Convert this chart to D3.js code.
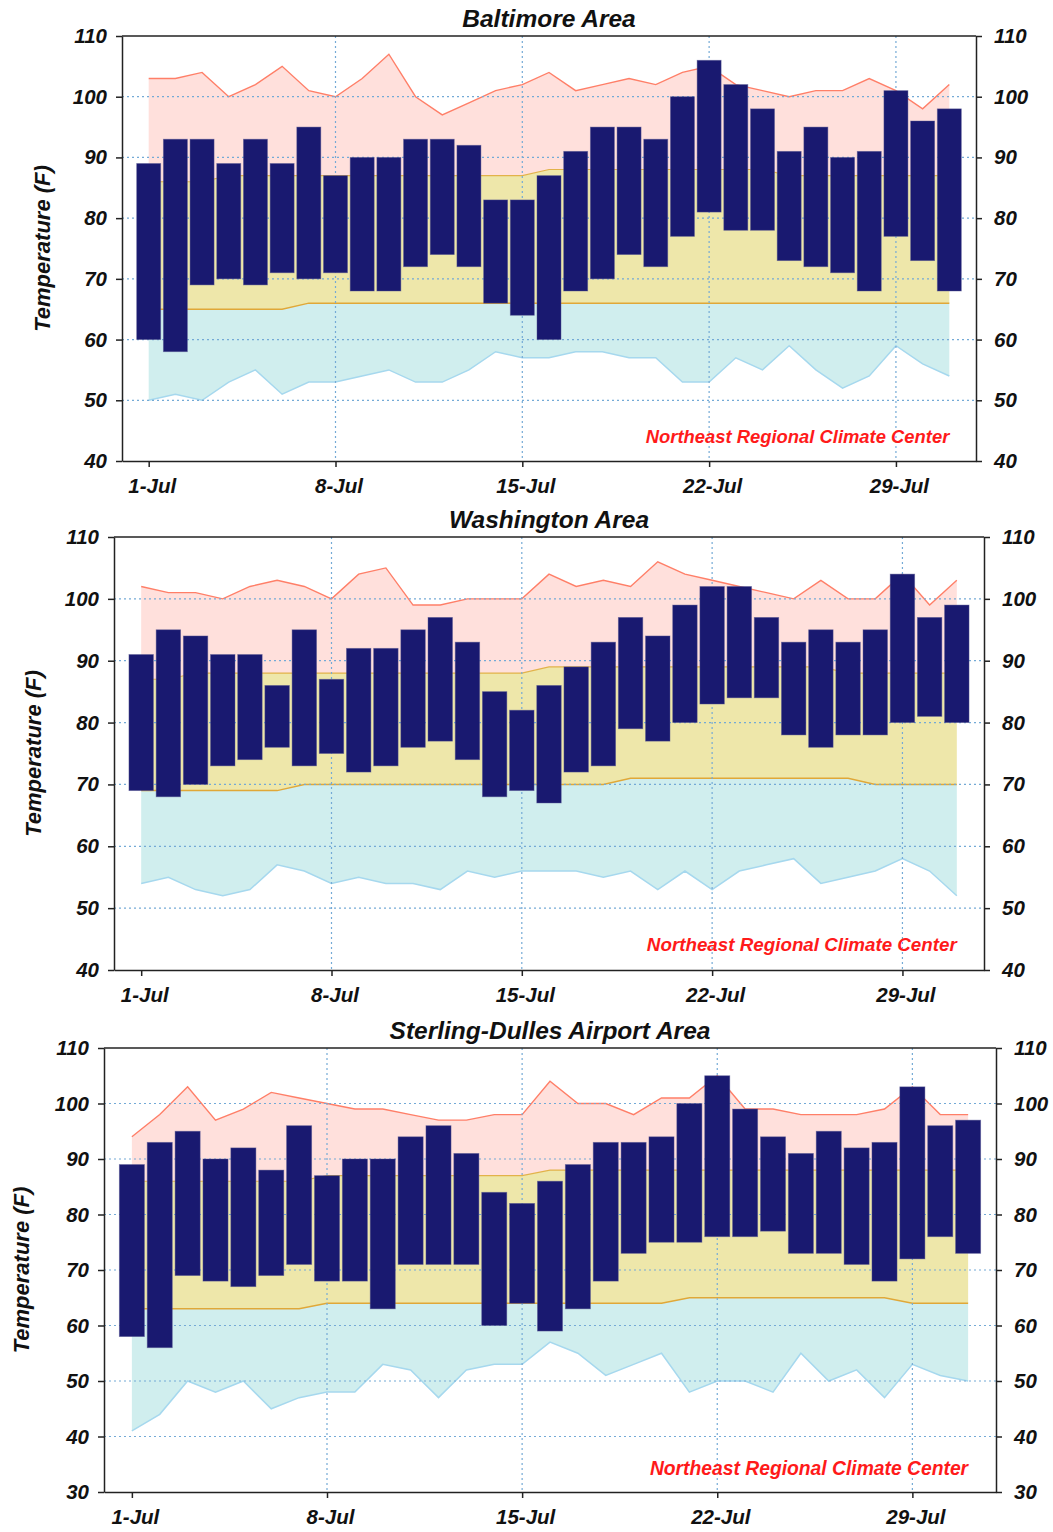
<!DOCTYPE html>
<html>
<head>
<meta charset="utf-8">
<script src="https://cdn.jsdelivr.net/npm/d3@7"></script>
<style>
  body { margin: 0; background: #fff; }
  svg { display: block; font-family: "Liberation Sans", Arial, sans-serif; font-weight: bold; font-style: italic; }
</style>
</head>
<body>
<div id="chart"></div>
<script>
// July days and labelled ticks
const days = [1,2,3,4,5,6,7,8,9,10,11,12,13,14,15,16,17,18,19,20,21,22,23,24,25,26,27,28,29,30,31];
const tickDays = [1, 8, 15, 22, 29];
const tickLabels = ["1-Jul", "8-Jul", "15-Jul", "22-Jul", "29-Jul"];

// Baltimore
const balRecHigh  = [103,103,104,100,102,105,101,100,103,107,100,97,99,101,102,104,101,102,103,102,104,105,102,101,100,101,101,103,101,98,102];
const balNormHigh = [86,86,86,87,87,87,87,87,87,87,87,87,87,87,87,88,88,88,88,88,88,88,88,88,87,87,87,87,87,87,87];
const balNormLow  = [65,65,65,65,65,65,66,66,66,66,66,66,66,66,66,66,66,66,66,66,66,66,66,66,66,66,66,66,66,66,66];
const balRecLow   = [50,51,50,53,55,51,53,53,54,55,53,53,55,58,57,57,58,58,57,57,53,53,57,55,59,55,52,54,59,56,54];
const balHigh     = [89,93,93,89,93,89,95,87,90,90,93,93,92,83,83,87,91,95,95,93,100,106,102,98,91,95,90,91,101,96,98];
const balLow      = [60,58,69,70,69,71,70,71,68,68,72,74,72,66,64,60,68,70,74,72,77,81,78,78,73,72,71,68,77,73,68];

// Washington
const wasRecHigh  = [102,101,101,100,102,103,102,100,104,105,99,99,100,100,100,104,102,103,102,106,104,103,102,101,100,103,100,100,104,99,103];
const wasNormHigh = [87,87,88,88,88,88,88,88,88,88,88,88,88,88,88,89,89,89,89,89,89,89,89,89,89,89,88,88,88,88,88];
const wasNormLow  = [69,69,69,69,69,69,70,70,70,70,70,70,70,70,70,70,70,70,71,71,71,71,71,71,71,71,71,70,70,70,70];
const wasRecLow   = [54,55,53,52,53,57,56,54,55,54,54,53,56,55,56,56,56,55,56,53,56,53,56,57,58,54,55,56,58,56,52];
const wasHigh     = [91,95,94,91,91,86,95,87,92,92,95,97,93,85,82,86,89,93,97,94,99,102,102,97,93,95,93,95,104,97,99];
const wasLow      = [69,68,70,73,74,76,73,75,72,73,76,77,74,68,69,67,72,73,79,77,80,83,84,84,78,76,78,78,80,81,80];

// Sterling-Dulles
const stlRecHigh  = [94,98,103,97,99,102,101,100,99,99,98,97,97,98,98,104,100,100,98,101,101,105,99,99,98,98,98,99,103,98,98];
const stlNormHigh = [86,86,86,86,86,86,86,87,87,87,87,87,87,87,87,88,88,88,88,88,88,88,88,88,88,88,88,88,88,88,88];
const stlNormLow  = [63,63,63,63,63,63,63,64,64,64,64,64,64,64,64,64,64,64,64,64,65,65,65,65,65,65,65,65,64,64,64];
const stlRecLow   = [41,44,50,48,50,45,47,48,48,53,52,47,52,53,53,57,55,51,53,55,48,50,50,48,55,50,52,47,53,51,50];
const stlHigh     = [89,93,95,90,92,88,96,87,90,90,94,96,91,84,82,86,89,93,93,94,100,105,99,94,91,95,92,93,103,96,97];
const stlLow      = [58,56,69,68,67,69,71,68,68,63,71,71,71,60,64,59,63,68,73,75,75,76,76,77,73,73,71,68,72,76,73];

const yTicksA = [40,50,60,70,80,90,100,110];
const yTicksB = [30,40,50,60,70,80,90,100,110];

const W = 1053, H = 1532;
const svg = d3.select("#chart").append("svg").attr("width", W).attr("height", H);

const panels = [
  { title: "Baltimore Area", recHigh: balRecHigh, normHigh: balNormHigh, normLow: balNormLow, recLow: balRecLow,
    high: balHigh, low: balLow, yTicks: yTicksA, left: 122, right: 976, top: 36, bottom: 461, labelX: 42, creditSize: 18.4 },
  { title: "Washington Area", recHigh: wasRecHigh, normHigh: wasNormHigh, normLow: wasNormLow, recLow: wasRecLow,
    high: wasHigh, low: wasLow, yTicks: yTicksA, left: 114, right: 984, top: 537, bottom: 970, labelX: 33, creditSize: 18.8 },
  { title: "Sterling-Dulles Airport Area", recHigh: stlRecHigh, normHigh: stlNormHigh, normLow: stlNormLow, recLow: stlRecLow,
    high: stlHigh, low: stlLow, yTicks: yTicksB, left: 104, right: 996, top: 1048, bottom: 1492, labelX: 21, creditSize: 19.3 }
];

function drawPanel(p) {
  const yMin = p.yTicks[0], yMax = p.yTicks[p.yTicks.length - 1];
  const x = d3.scaleLinear().domain([0, 32]).range([p.left, p.right]);
  const y = d3.scaleLinear().domain([yMin, yMax]).range([p.bottom, p.top]);

  const rows = days.map((d, i) => ({
    day: d, recHigh: p.recHigh[i], normHigh: p.normHigh[i], normLow: p.normLow[i],
    recLow: p.recLow[i], high: p.high[i], low: p.low[i]
  }));

  const g = svg.append("g");

  // climate bands
  const band = (hi, lo, fill) => g.append("path").datum(rows).attr("fill", fill)
    .attr("d", d3.area().x(d => x(d.day)).y0(d => y(d[lo])).y1(d => y(d[hi])));
  band("recHigh", "normHigh", "#ffe0dc");
  band("normHigh", "normLow", "#eee7aa");
  band("normLow", "recLow", "#d0eeee");

  const line = (key, color, w) => g.append("path").datum(rows).attr("fill", "none")
    .attr("stroke", color).attr("stroke-width", w)
    .attr("d", d3.line().x(d => x(d.day)).y(d => y(d[key])));
  line("recHigh", "#ff7f68", 1.4);
  line("normHigh", "#e2b24a", 1.1);
  line("normLow", "#e0a838", 1.5);
  line("recLow", "#a6d8ee", 1.5);

  // dotted grid
  const grid = g.append("g").attr("stroke", "#74aad6").attr("stroke-width", 1.2).attr("stroke-dasharray", "2,3");
  grid.selectAll(".gy").data(p.yTicks.slice(1, -1)).join("line")
    .attr("x1", p.left).attr("x2", p.right).attr("y1", d => y(d)).attr("y2", d => y(d));
  grid.selectAll(".gx").data(tickDays.slice(1)).join("line")
    .attr("x1", d => x(d)).attr("x2", d => x(d)).attr("y1", p.top).attr("y2", p.bottom);

  // observed daily range
  const bw = (x(1) - x(0)) * 0.9;
  g.append("g").selectAll("rect").data(rows).join("rect")
    .attr("x", d => x(d.day) - bw / 2)
    .attr("y", d => y(d.high))
    .attr("width", bw)
    .attr("height", d => y(d.low) - y(d.high))
    .attr("fill", "#191970")
    .attr("stroke", "#5656928a").attr("stroke-width", 0.8);

  // axes / frame
  const styleAxis = size => sel => {
    sel.selectAll("path,line").attr("stroke", "#222").attr("stroke-width", 1.5);
    sel.selectAll("text").attr("fill", "#111").style("font-size", size)
      .style("font-family", '"Liberation Sans", Arial, sans-serif');
  };
  g.append("g").attr("transform", `translate(${p.left},0)`)
    .call(d3.axisLeft(y).tickValues(p.yTicks).tickSize(6).tickSizeOuter(0).tickPadding(9))
    .call(styleAxis("20.5px"));
  g.append("g").attr("transform", `translate(${p.right},0)`)
    .call(d3.axisRight(y).tickValues(p.yTicks).tickSize(6).tickSizeOuter(0).tickPadding(12))
    .call(styleAxis("20.5px"));
  g.append("g").attr("transform", `translate(0,${p.bottom})`)
    .call(d3.axisBottom(x).tickValues(tickDays).tickFormat((d, i) => tickLabels[i]).tickSize(6).tickSizeOuter(0).tickPadding(11))
    .call(styleAxis("20.5px"))
    .call(a => a.selectAll("text").attr("dx", 3));
  g.append("line").attr("x1", p.left).attr("x2", p.right).attr("y1", p.top).attr("y2", p.top)
    .attr("stroke", "#222").attr("stroke-width", 1.5);

  g.append("text").attr("x", (p.left + p.right) / 2).attr("y", p.top - 9)
    .attr("text-anchor", "middle").style("font-size", "24.5px").attr("fill", "#111").text(p.title);

  g.append("text").attr("transform", `translate(${p.labelX},${(p.top + p.bottom) / 2}) rotate(-90)`)
    .attr("text-anchor", "middle").attr("dy", "0.35em").style("font-size", "22px").attr("fill", "#111")
    .text("Temperature (F)");

  g.append("text").attr("x", x(31)).attr("y", y(yMin + 3))
    .attr("text-anchor", "end").style("font-size", p.creditSize + "px").attr("fill", "#ff1a1a")
    .text("Northeast Regional Climate Center");
}

panels.forEach(drawPanel);
</script>
</body>
</html>
